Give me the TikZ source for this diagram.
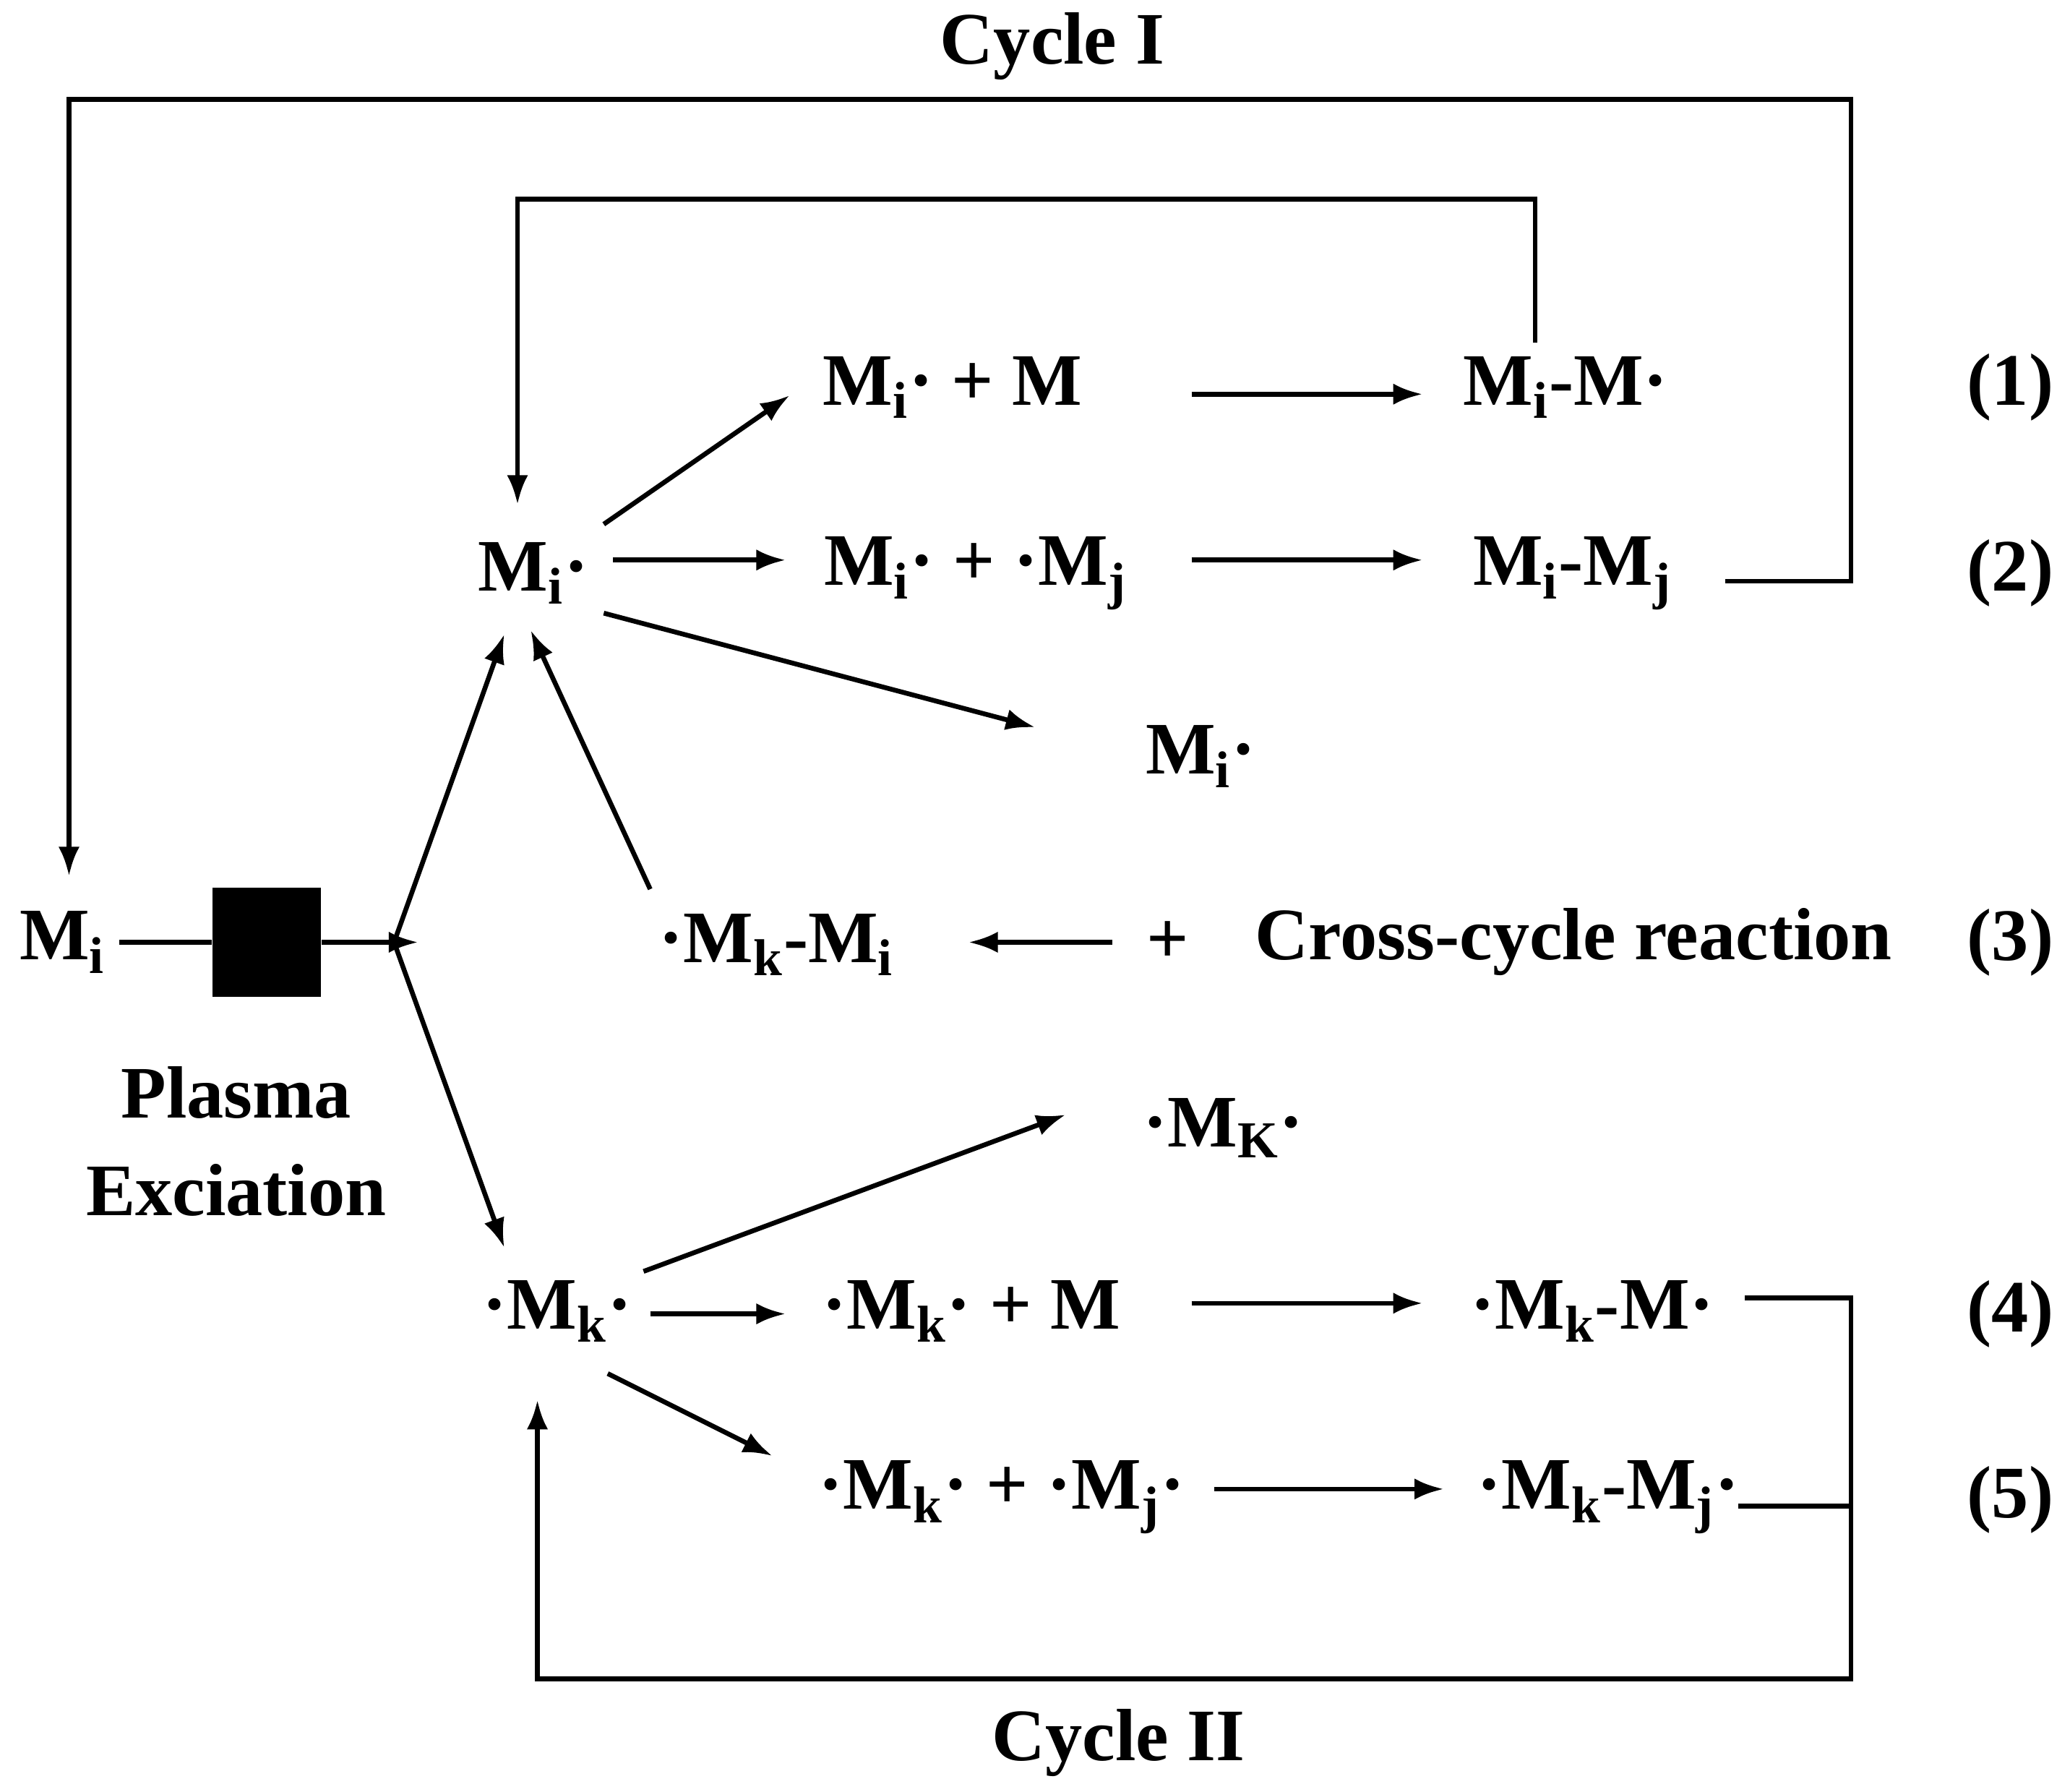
\documentclass[tikz,border=0pt]{standalone}
\usepackage{fontspec}
\setmainfont{Liberation Serif}
\usetikzlibrary{arrows.meta}
\begin{document}
\begin{tikzpicture}[x=0.5bp,y=-0.5bp,
  t/.style={font=\fontsize{28}{33}\selectfont\bfseries,inner sep=0pt},
  ln/.style={line width=1.8bp},
  ar/.style={ln,-{Latex[length=11bp,width=8bp]}}]
\useasboundingbox (0,0) rectangle (1560,1350);
\def\s#1{\textsubscript{#1}}
% texts
\node[t] (c1) at (793,35) {Cycle I};
\node[t] (c2) at (843,1313) {Cycle II};
\node[t] (mi0) at (47,710) {M\s{i}};
\node[t,align=center] (pe) at (178,860) {Plasma\\[4pt]Exciation};
\node[t] (mid) at (402,432) {M\s{i}·};
\node[t] (r1a) at (718,292) {M\s{i}· + M};
\node[t] (r1b) at (1180,292) {M\s{i}-M·};
\node[t] (n1) at (1515,292) {(1)};
\node[t] (r2a) at (735,432) {M\s{i}· + ·M\s{j}};
\node[t] (r2b) at (1185,432) {M\s{i}-M\s{j}};
\node[t] (n2) at (1515,432) {(2)};
\node[t] (mi2) at (905,570) {M\s{i}·};
\node[t] (r3a) at (585,712) {·M\s{k}-M\s{i}};
\node[t] (plus) at (880,710) {+};
\node[t] (cc) at (1186,710) {Cross-cycle reaction};
\node[t] (n3) at (1515,710) {(3)};
\node[t] (mK) at (922,850) {·M\s{K}·};
\node[t] (mk) at (420,988) {·M\s{k}·};
\node[t] (r4a) at (732,988) {·M\s{k}· + M};
\node[t] (r4b) at (1200,988) {·M\s{k}-M·};
\node[t] (n4) at (1515,990) {(4)};
\node[t] (r5a) at (755,1128) {·M\s{k}· + ·M\s{j}·};
\node[t] (r5b) at (1212,1128) {·M\s{k}-M\s{j}·};
\node[t] (n5) at (1515,1130) {(5)};
% plasma
\node[fill=black,minimum width=41bp,minimum height=41bp,inner sep=0pt] (sq) at (201,710) {};
\coordinate (bp) at (297,710);
\draw[ln] (90,710) -- (sq.west);
\draw[ar] (sq.east) -- (315,710);
\draw[ar] (bp) -- (380,478);
\draw[ar] (bp) -- (380,940);
% cycle I
\draw[ar] (1300,438) -- (1395,438) -- (1395,75) -- (52,75) -- (52,660);
\draw[ar] (1157,258) -- (1157,150) -- (390,150) -- (390,380);
% row arrows
\draw[ar] (455,395) -- (595,298);
\draw[ar] (898,297) -- (1072,297);
\draw[ar] (462,422) -- (592,422);
\draw[ar] (898,422) -- (1072,422);
\draw[ar] (455,462) -- (780,548);
\draw[ar] (838,710) -- (730,710);
\draw[ar] (490,670) -- (400,475);
\draw[ar] (485,958) -- (803,840);
\draw[ar] (490,990) -- (592,990);
\draw[ar] (898,982) -- (1072,982);
\draw[ar] (458,1035) -- (582,1097);
\draw[ar] (915,1122) -- (1088,1122);
% cycle II
\draw[ar] (1315,978) -- (1395,978) -- (1395,1265) -- (405,1265) -- (405,1055);
\draw[ln] (1310,1135) -- (1395,1135);
\end{tikzpicture}
\end{document}
